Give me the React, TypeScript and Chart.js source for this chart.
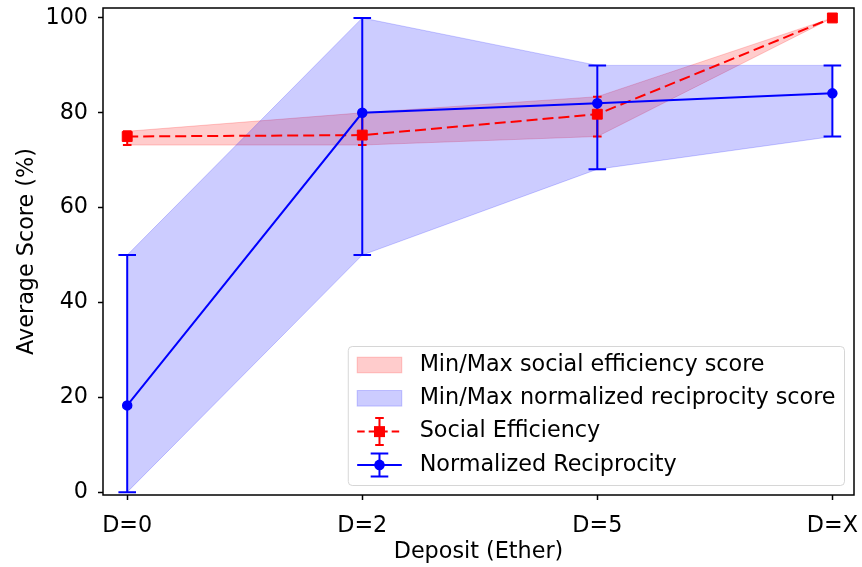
import React, { useEffect, useRef } from 'react';
import { Chart, registerables } from 'chart.js';

Chart.register(...registerables);

// ---- data ----
const categories = ['D=0', 'D=2', 'D=5', 'D=X'];
const yTickValues = [0, 20, 40, 60, 80, 100];
const socialEfficiency = [75.0, 75.3, 79.7, 100];
const socialMin = [73.2, 73.2, 75.0, 100];
const socialMax = [76.1, 80.0, 83.4, 100];
const reciprocity = [18.3, 80.0, 82.0, 84.1];
const reciprocityMin = [0, 50, 68.1, 75.0];
const reciprocityMax = [50, 100, 90.0, 90.0];
const legendLabels = [
  'Min/Max social efficiency score',
  'Min/Max normalized reciprocity score',
  'Social Efficiency',
  'Normalized Reciprocity',
];
const xTitle = 'Deposit (Ether)';
const yTitle = 'Average Score (%)';

// ---- style ----
const FONT = '"DejaVu Sans", sans-serif';
const FS = 22.3;
const RED = '#ff0000';
const BLUE = '#0000ff';
const RED_FILL = 'rgba(255,0,0,0.2)';
const BLUE_FILL = 'rgba(0,0,255,0.2)';

const xy = (arr: number[]) => arr.map((v, i) => ({ x: i, y: v }));

const errorBarsPlugin = {
  id: 'errorBars',
  beforeDatasetDraw(chart: any, args: any) {
    if (args.index !== 4) return;
    const { ctx } = chart;
    const xs = chart.scales.x;
    const ys = chart.scales.y;
    const groups = [
      { lo: socialMin, hi: socialMax, color: RED, cap: 4.3 },
      { lo: reciprocityMin, hi: reciprocityMax, color: BLUE, cap: 8.8 },
    ];
    ctx.save();
    ctx.lineWidth = 2;
    for (const g of groups) {
      ctx.strokeStyle = g.color;
      g.lo.forEach((lo, i) => {
        const px = xs.getPixelForValue(i);
        const p1 = ys.getPixelForValue(lo);
        const p2 = ys.getPixelForValue(g.hi[i]);
        ctx.beginPath();
        ctx.moveTo(px, p1);
        ctx.lineTo(px, p2);
        ctx.moveTo(px - g.cap, p1);
        ctx.lineTo(px + g.cap, p1);
        ctx.moveTo(px - g.cap, p2);
        ctx.lineTo(px + g.cap, p2);
        ctx.stroke();
      });
    }
    ctx.restore();
  },
};

const framePlugin = {
  id: 'frame',
  afterDatasetsDraw(chart: any) {
    const { ctx, chartArea: a } = chart;
    ctx.save();
    ctx.strokeStyle = '#000';
    ctx.lineWidth = 1.5;
    ctx.strokeRect(a.left, a.top, a.right - a.left, a.bottom - a.top);
    ctx.restore();
  },
};

const legendPlugin = {
  id: 'boxLegend',
  afterDraw(chart: any) {
    const { ctx, chartArea } = chart;
    ctx.save();
    ctx.font = `${FS}px ${FONT}`;
    const maxW = Math.max(...legendLabels.map((t) => ctx.measureText(t).width));
    const pad = 0.4 * FS;
    const handleLen = 2 * FS;
    const textPad = 0.8 * FS;
    const right = chartArea.right - 9.5;
    const bottom = chartArea.bottom - 9.5;
    const left = right - (pad + handleLen + textPad + maxW + pad);
    const top = bottom - 139;
    ctx.beginPath();
    ctx.roundRect(left, top, right - left, bottom - top, 4);
    ctx.fillStyle = 'rgba(255,255,255,0.8)';
    ctx.fill();
    ctx.strokeStyle = 'rgba(204,204,204,0.8)';
    ctx.lineWidth = 1;
    ctx.stroke();

    const hx0 = left + pad;
    const hw = handleLen;
    const hx = hx0 + hw / 2;
    legendLabels.forEach((label, i) => {
      const y = top + 18.5 + i * 33.3;
      if (i === 0 || i === 1) {
        const c = i === 0 ? RED_FILL : BLUE_FILL;
        const ph = 0.7 * FS;
        ctx.fillStyle = c;
        ctx.strokeStyle = c;
        ctx.lineWidth = 1;
        ctx.fillRect(hx0, y - ph / 2, hw, ph);
        ctx.strokeRect(hx0, y - ph / 2, hw, ph);
      } else {
        const isRed = i === 2;
        const c = isRed ? RED : BLUE;
        const eh = isRed ? 13.5 : 11.5;
        const cap = isRed ? 4.3 : 8.8;
        ctx.strokeStyle = c;
        ctx.fillStyle = c;
        ctx.lineWidth = 2;
        ctx.setLineDash(isRed ? [7.5, 4] : []);
        ctx.beginPath();
        ctx.moveTo(hx0, y);
        ctx.lineTo(hx0 + hw, y);
        ctx.stroke();
        ctx.setLineDash([]);
        ctx.beginPath();
        ctx.moveTo(hx, y - eh);
        ctx.lineTo(hx, y + eh);
        ctx.moveTo(hx - cap, y - eh);
        ctx.lineTo(hx + cap, y - eh);
        ctx.moveTo(hx - cap, y + eh);
        ctx.lineTo(hx + cap, y + eh);
        ctx.stroke();
        ctx.beginPath();
        if (isRed) {
          ctx.rect(hx - 5.5, y - 5.5, 11, 11);
        } else {
          ctx.arc(hx, y, 5.3, 0, Math.PI * 2);
        }
        ctx.fill();
      }
      ctx.fillStyle = '#000';
      ctx.textBaseline = 'middle';
      ctx.textAlign = 'left';
      ctx.fillText(label, hx0 + hw + textPad, y);
    });
    ctx.restore();
  },
};

export default function App() {
  const ref = useRef<HTMLCanvasElement>(null);
  useEffect(() => {
    const canvas = ref.current;
    if (!canvas) return;
    const tickFont = { family: FONT, size: FS };
    const chart = new Chart(canvas, {
      type: 'line',
      data: {
        datasets: [
          {
            label: 'socialMax',
            data: xy(socialMax),
            borderColor: RED_FILL,
            backgroundColor: RED_FILL,
            borderWidth: 1,
            fill: '+1',
            pointRadius: 0,
            order: 7,
          },
          {
            label: 'socialMin',
            data: xy(socialMin),
            borderColor: RED_FILL,
            borderWidth: 1,
            fill: false,
            pointRadius: 0,
            order: 8,
          },
          {
            label: 'reciprocityMax',
            data: xy(reciprocityMax),
            borderColor: BLUE_FILL,
            backgroundColor: BLUE_FILL,
            borderWidth: 1,
            fill: '+1',
            pointRadius: 0,
            order: 5,
          },
          {
            label: 'reciprocityMin',
            data: xy(reciprocityMin),
            borderColor: BLUE_FILL,
            borderWidth: 1,
            fill: false,
            pointRadius: 0,
            order: 6,
          },
          {
            label: legendLabels[2],
            data: xy(socialEfficiency),
            borderColor: RED,
            backgroundColor: RED,
            borderWidth: 2,
            borderDash: [11, 5],
            fill: false,
            pointStyle: 'rect',
            pointRadius: 7,
            pointBorderWidth: 1,
            pointBackgroundColor: RED,
            pointBorderColor: RED,
            order: 2,
          },
          {
            label: legendLabels[3],
            data: xy(reciprocity),
            borderColor: BLUE,
            backgroundColor: BLUE,
            borderWidth: 2,
            fill: false,
            pointStyle: 'circle',
            pointRadius: 4.5,
            pointBorderWidth: 1.5,
            pointBackgroundColor: BLUE,
            pointBorderColor: BLUE,
            order: 1,
          },
        ],
      },
      options: {
        responsive: false,
        animation: false,
        devicePixelRatio: 1,
        events: [],
        layout: { padding: { top: 5, right: 6, left: 0, bottom: 0 } },
        plugins: {
          legend: { display: false },
          tooltip: { enabled: false },
        },
        scales: {
          x: {
            type: 'linear',
            min: -0.103,
            max: 3.092,
            afterBuildTicks: (s: any) => {
              s.ticks = categories.map((_, i) => ({ value: i }));
            },
            afterFit: (s: any) => {
              s.height = 72;
              s.paddingLeft = 0;
              s.paddingRight = 0;
            },
            grid: {
              drawOnChartArea: false,
              drawTicks: true,
              tickLength: 5,
              tickColor: '#000',
              tickWidth: 1.5,
            },
            border: { display: false },
            ticks: {
              color: '#000',
              font: tickFont,
              padding: 13,
              maxRotation: 0,
              autoSkip: false,
              callback: (v: any) => categories[v] ?? '',
            },
            title: {
              display: true,
              text: xTitle,
              color: '#000',
              font: tickFont,
              padding: { top: 0, bottom: 1 },
            },
          },
          y: {
            type: 'linear',
            min: -0.6,
            max: 102.1,
            afterBuildTicks: (s: any) => {
              s.ticks = yTickValues.map((v) => ({ value: v }));
            },
            afterFit: (s: any) => {
              s.width = 103;
              s.paddingTop = 0;
              s.paddingBottom = 0;
            },
            grid: {
              drawOnChartArea: false,
              drawTicks: true,
              tickLength: 5,
              tickColor: '#000',
              tickWidth: 1.5,
            },
            border: { display: false },
            ticks: {
              color: '#000',
              font: tickFont,
              padding: 10,
              callback: (v: any) => String(v),
            },
            title: {
              display: true,
              text: yTitle,
              color: '#000',
              font: tickFont,
              padding: { top: 13.5, bottom: 0 },
            },
          },
        },
      },
      plugins: [errorBarsPlugin, framePlugin, legendPlugin],
    } as any);
    return () => chart.destroy();
  }, []);

  return (
    <div style={{ position: 'absolute', left: 0, top: 0, width: 862, height: 567, background: '#fff' }}>
      <canvas ref={ref} width={862} height={567} />
    </div>
  );
}
